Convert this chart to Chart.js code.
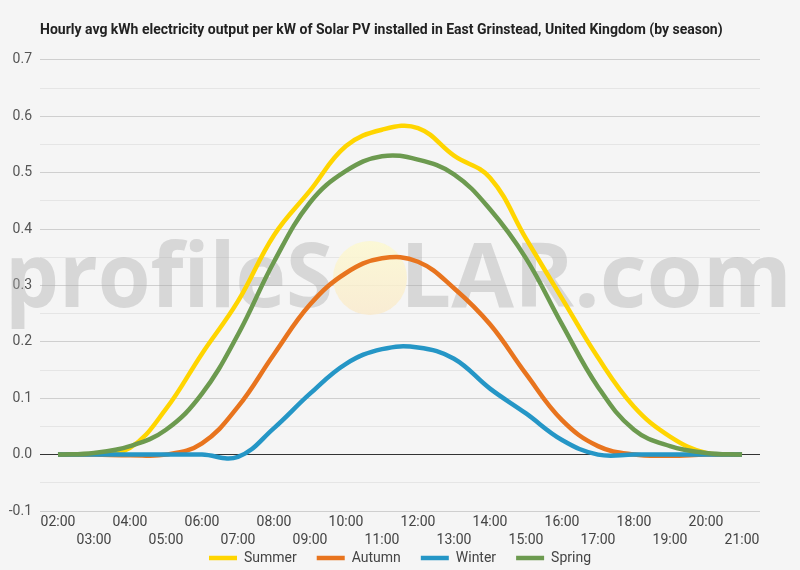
<!DOCTYPE html>
<html>
<head>
<meta charset="utf-8">
<script src="https://cdn.jsdelivr.net/npm/chart.js@4/dist/chart.umd.min.js"></script>
<style>
  body { margin: 0; background: #f5f5f5; }
  #wrap { width: 800px; height: 570px; }
</style>
</head>
<body>
<div id="wrap"><canvas id="Chart1" width="800" height="570"></canvas></div>
<script>
var hours = ['02:00', '03:00', '04:00', '05:00', '06:00', '07:00', '08:00', '09:00', '10:00', '11:00',
             '12:00', '13:00', '14:00', '15:00', '16:00', '17:00', '18:00', '19:00', '20:00', '21:00'];
var summer = [0, 0.001, 0.012, 0.081, 0.179, 0.272, 0.389, 0.468, 0.547, 0.576,
              0.579, 0.53, 0.491, 0.383, 0.277, 0.172, 0.085, 0.032, 0.003, 0];
var autumn = [0, 0, -0.001, 0, 0.02, 0.085, 0.178, 0.266, 0.322, 0.348,
              0.342, 0.295, 0.231, 0.143, 0.061, 0.015, 0, -0.002, 0, 0];
var winter = [0, 0, 0, 0, 0, -0.004, 0.047, 0.108, 0.161, 0.187,
              0.19, 0.17, 0.117, 0.073, 0.026, 0, 0, 0, 0, 0];
var spring = [0, 0.003, 0.015, 0.044, 0.108, 0.213, 0.342, 0.447, 0.503, 0.529,
              0.523, 0.497, 0.435, 0.348, 0.231, 0.12, 0.044, 0.015, 0.003, 0];
var yTicks = { min: -0.1, max: 0.7, step: 0.05 };

// profileSOLAR watermark, drawn behind the lines
var watermark = {
    id: 'watermark',
    beforeDatasetsDraw: function(chart) {
        var ctx = chart.ctx;
        ctx.save();
        var g = ctx.createLinearGradient(0, 241, 0, 315);
        g.addColorStop(0, 'rgba(252,248,208,0.85)');
        g.addColorStop(1, 'rgba(249,234,205,0.85)');
        ctx.fillStyle = g;
        ctx.beginPath();
        ctx.arc(370, 278, 37, 0, Math.PI * 2);
        ctx.fill();

        ctx.font = '700 90px "Open Sans"';
        ctx.fillStyle = 'rgba(170,170,170,0.4)';
        ctx.textBaseline = 'alphabetic';
        var parts = [['profileS', 5, 333], ['LAR.com', 400, 792]];
        parts.forEach(function(p) {
            var w = ctx.measureText(p[0]).width;
            ctx.save();
            ctx.translate(p[1], 307);
            ctx.scale((p[2] - p[1]) / w, 1);
            ctx.fillText(p[0], 0, 0);
            ctx.restore();
        });
        ctx.restore();
    }
};

// pull the legend up so it sits just under the two rows of hour labels
var legendShift = {
    id: 'legendShift',
    afterLayout: function(chart) {
        chart.legend.top -= 20;
        chart.legend.bottom -= 20;
    }
};

function makeSet(name, data, color, order) {
    return {
        label: name,
        data: data,
        borderColor: color,
        backgroundColor: color,
        borderWidth: 4.5,
        pointRadius: 0,
        tension: 0.4,
        fill: false,
        order: order
    };
}

var ctx1 = document.getElementById('Chart1').getContext('2d');
var chart1 = new Chart(ctx1, {
    type: 'line',
    data: {
        labels: hours,
        datasets: [
            makeSet('Summer', summer, '#ffd500', 4),
            makeSet('Autumn', autumn, '#e8741e', 3),
            makeSet('Winter', winter, '#2596c6', 2),
            makeSet('Spring', spring, '#6c9a4f', 1)
        ]
    },
    options: {
        responsive: false,
        animation: false,
        devicePixelRatio: 1,
        layout: { padding: { top: 0, left: 0, right: 0, bottom: -25 } },
        plugins: {
            title: {
                display: true,
                text: 'Hourly avg kWh electricity output per kW of Solar PV installed in East Grinstead, United Kingdom (by season)',
                align: 'start',
                fullSize: false,
                color: '#222',
                font: { family: 'Roboto', size: 14, weight: 'bold' },
                padding: { top: 22, bottom: 21 }
            },
            legend: {
                position: 'bottom',
                labels: {
                    color: '#444',
                    font: { family: 'Roboto', size: 14 },
                    usePointStyle: true,
                    pointStyle: 'line',
                    pointStyleWidth: 28,
                    padding: 20,
                    sort: function(a, b) { return a.datasetIndex - b.datasetIndex; }
                }
            },
            tooltip: { enabled: false }
        },
        scales: {
            x: {
                offset: true,
                grid: { display: false, drawTicks: false },
                border: { display: false },
                afterFit: function(scale) { scale.height = 40; },
                ticks: {
                    autoSkip: false,
                    maxRotation: 0,
                    padding: 2,
                    color: '#444',
                    font: { family: 'Roboto', size: 14, lineHeight: 1.3 },
                    callback: function(val, i) {
                        var l = this.getLabelForValue(val);
                        return i % 2 === 0 ? [l, ''] : ['', l];
                    }
                }
            },
            y: {
                min: yTicks.min,
                max: yTicks.max,
                afterFit: function(scale) { scale.width = 40; },
                border: { display: false },
                grid: {
                    drawTicks: false,
                    color: function(c) {
                        var v = Math.round(c.tick.value * 100);
                        if (v === 0) return '#333';
                        if (v % 10 === 0) return '#cfcfcf';
                        return '#e5e5e5';
                    }
                },
                ticks: {
                    stepSize: yTicks.step,
                    autoSkip: false,
                    padding: 8,
                    color: '#555',
                    font: { family: 'Roboto', size: 14 },
                    callback: function(v) {
                        var n = Math.round(v * 100);
                        return n % 10 === 0 ? (n / 100).toFixed(1) : '';
                    }
                }
            },
            // empty right-hand axis, only keeps a 40px margin so the legend stays centred
            yRight: {
                position: 'right',
                min: yTicks.min,
                max: yTicks.max,
                afterFit: function(scale) { scale.width = 40; },
                border: { display: false },
                grid: { display: false },
                ticks: { display: false }
            }
        }
    },
    plugins: [watermark, legendShift]
});
</script>
</body>
</html>
